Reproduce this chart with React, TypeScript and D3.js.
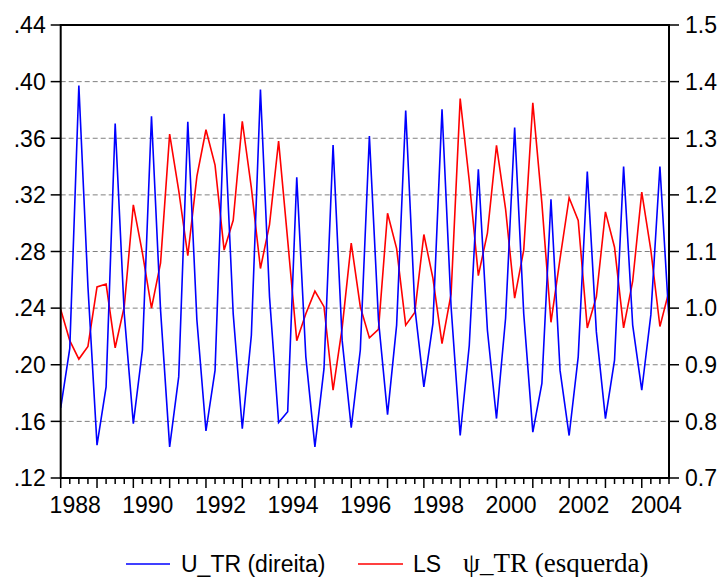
import { useEffect, useRef } from "react";
import * as d3 from "d3";

// quarterly data, 1988Q1 .. 2004Q4
const startYear = 1988;

// U_TR, plotted on the right axis (direita)
const uTr = [
  0.824, 0.929, 1.393, 1.038, 0.758, 0.861, 1.326, 0.99, 0.796, 0.926, 1.339, 0.996,
  0.755, 0.879, 1.329, 0.979, 0.783, 0.89, 1.343, 0.99, 0.787, 0.952, 1.386, 1.02,
  0.798, 0.817, 1.231, 0.914, 0.755, 0.893, 1.288, 0.943, 0.789, 0.926, 1.304, 0.979,
  0.812, 0.97, 1.349, 1.002, 0.861, 0.973, 1.351, 1.002, 0.775, 0.934, 1.245, 0.961,
  0.805, 0.982, 1.319, 0.99, 0.781, 0.867, 1.192, 0.89, 0.775, 0.914, 1.241, 0.958,
  0.805, 0.908, 1.25, 0.97, 0.855, 0.988, 1.25, 0.979,
];

// LS psi_TR, plotted on the left axis (esquerda)
const lsPsiTr = [
  0.239, 0.217, 0.204, 0.213, 0.255, 0.257, 0.212, 0.241, 0.313, 0.279, 0.24, 0.272,
  0.363, 0.323, 0.277, 0.333, 0.366, 0.341, 0.281, 0.302, 0.372, 0.325, 0.268, 0.299,
  0.358, 0.288, 0.217, 0.236, 0.252, 0.241, 0.182, 0.226, 0.286, 0.241, 0.219, 0.225,
  0.307, 0.282, 0.228, 0.237, 0.292, 0.261, 0.215, 0.25, 0.388, 0.33, 0.263, 0.293,
  0.355, 0.31, 0.247, 0.281, 0.385, 0.314, 0.23, 0.275, 0.318, 0.302, 0.226, 0.248,
  0.308, 0.283, 0.226, 0.259, 0.322, 0.281, 0.227, 0.252,
];

const leftTicks = [0.12, 0.16, 0.2, 0.24, 0.28, 0.32, 0.36, 0.4, 0.44];
const rightTicks = [0.7, 0.8, 0.9, 1.0, 1.1, 1.2, 1.3, 1.4, 1.5];
const yearLabels = [1988, 1990, 1992, 1994, 1996, 1998, 2000, 2002, 2004];

const W = 723;
const H = 577;
const margin = { top: 25, right: 54, bottom: 99, left: 60.7 };

export default function App() {
  const svgRef = useRef<SVGSVGElement>(null);

  useEffect(() => {
    const svg = d3.select(svgRef.current);
    svg.selectAll("*").remove();

    const x0 = margin.left;
    const x1 = W - margin.right;
    const y0 = H - margin.bottom;
    const y1 = margin.top;

    const t = uTr.map((_, i) => startYear + i / 4);
    const xScale = d3.scaleLinear().domain([t[0], t[t.length - 1]]).range([x0, x1]);
    const yLeft = d3.scaleLinear().domain([0.12, 0.44]).range([y0, y1]);
    const yRight = d3.scaleLinear().domain([0.7, 1.5]).range([y0, y1]);

    // dashed grid
    svg
      .append("g")
      .selectAll("line")
      .data(leftTicks.slice(1, -1))
      .join("line")
      .attr("x1", x0)
      .attr("x2", x1)
      .attr("y1", (d) => yLeft(d))
      .attr("y2", (d) => yLeft(d))
      .attr("stroke", "#808080")
      .attr("stroke-width", 1)
      .attr("stroke-dasharray", "5,3");

    const font = "Arial, 'Liberation Sans', sans-serif";

    // left axis
    const gl = svg.append("g");
    gl.selectAll("line")
      .data(leftTicks)
      .join("line")
      .attr("x1", x0 - 10)
      .attr("x2", x0)
      .attr("y1", (d) => yLeft(d))
      .attr("y2", (d) => yLeft(d))
      .attr("stroke", "black")
      .attr("stroke-width", 1.5);
    gl.selectAll("text")
      .data(leftTicks)
      .join("text")
      .attr("x", x0 - 15)
      .attr("y", (d) => yLeft(d))
      .attr("dy", "0.36em")
      .attr("text-anchor", "end")
      .attr("font-family", font)
      .attr("font-size", 23)
      .text((d) => d3.format(".2f")(d).replace(/^0/, ""));

    // right axis
    const gr = svg.append("g");
    gr.selectAll("line")
      .data(rightTicks)
      .join("line")
      .attr("x1", x1)
      .attr("x2", x1 + 10)
      .attr("y1", (d) => yRight(d))
      .attr("y2", (d) => yRight(d))
      .attr("stroke", "black")
      .attr("stroke-width", 1.5);
    gr.selectAll("text")
      .data(rightTicks)
      .join("text")
      .attr("x", x1 + 16)
      .attr("y", (d) => yRight(d))
      .attr("dy", "0.36em")
      .attr("font-family", font)
      .attr("font-size", 23)
      .text((d) => d3.format(".1f")(d));

    // bottom axis: year ticks and quarter ticks
    const gb = svg.append("g");
    gb.selectAll("line")
      .data(t)
      .join("line")
      .attr("x1", (d) => xScale(d))
      .attr("x2", (d) => xScale(d))
      .attr("y1", y0)
      .attr("y2", (d, i) => (i % 4 === 0 ? y0 + 10 : y0 + 6))
      .attr("stroke", "black")
      .attr("stroke-width", 1.5);
    gb.selectAll("text")
      .data(yearLabels)
      .join("text")
      .attr("x", (d) => xScale(d) + 14.5)
      .attr("y", y0 + 35)
      .attr("text-anchor", "middle")
      .attr("font-family", font)
      .attr("font-size", 23)
      .text((d) => d);

    // series
    svg
      .append("path")
      .datum(lsPsiTr)
      .attr("fill", "none")
      .attr("stroke", "#ff0000")
      .attr("stroke-width", 1.6)
      .attr("stroke-linejoin", "miter")
      .attr(
        "d",
        d3
          .line<number>()
          .x((_, i) => xScale(t[i]))
          .y((d) => yLeft(d))
      );

    svg
      .append("path")
      .datum(uTr)
      .attr("fill", "none")
      .attr("stroke", "#0000ff")
      .attr("stroke-width", 1.6)
      .attr("stroke-linejoin", "miter")
      .attr(
        "d",
        d3
          .line<number>()
          .x((_, i) => xScale(t[i]))
          .y((d) => yRight(d))
      );

    // frame
    svg
      .append("rect")
      .attr("x", x0)
      .attr("y", y1)
      .attr("width", x1 - x0)
      .attr("height", y0 - y1)
      .attr("fill", "none")
      .attr("stroke", "black")
      .attr("stroke-width", 2);

    // legend
    const lg = svg.append("g");
    const ly = 564;
    lg.append("line")
      .attr("x1", 126).attr("x2", 170).attr("y1", ly).attr("y2", ly)
      .attr("stroke", "#0000ff").attr("stroke-width", 1.5);
    lg.append("text")
      .attr("x", 181).attr("y", ly + 8)
      .attr("font-family", font).attr("font-size", 23)
      .text("U_TR (direita)");
    lg.append("line")
      .attr("x1", 358).attr("x2", 403).attr("y1", ly).attr("y2", ly)
      .attr("stroke", "#ff0000").attr("stroke-width", 1.5);
    const lt = lg.append("text").attr("x", 413).attr("y", ly + 8);
    lt.append("tspan").attr("font-family", font).attr("font-size", 23).text("LS");
    lt.append("tspan")
      .attr("x", 463)
      .attr("font-family", "'Times New Roman', 'Liberation Serif', serif")
      .attr("font-size", 27)
      .text("ψ_TR (esquerda)");
  }, []);

  return (
    <svg
      ref={svgRef}
      width={W}
      height={H}
      style={{ position: "absolute", left: 0, top: 0, background: "white" }}
    />
  );
}
